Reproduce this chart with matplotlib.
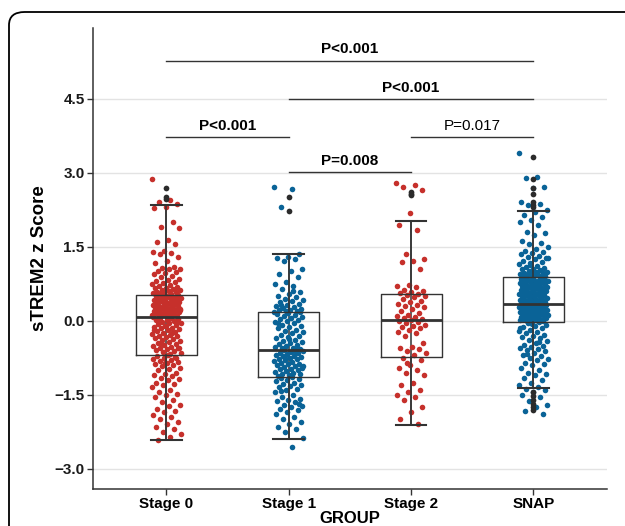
import matplotlib
matplotlib.use("Agg")
import matplotlib.pyplot as plt
from matplotlib.patches import FancyBboxPatch
import numpy as np

plt.rcParams['font.family'] = ['Liberation Sans', 'DejaVu Sans']

groups = ["Stage 0", "Stage 1", "Stage 2", "SNAP"]
colors = ["#C6302B", "#0A6397", "#C6302B", "#0A6397"]

# jittered points per group (z scores)
stage0 = [2.88, 2.45, 2.42, 2.38, 2.30, 2.28, 2.00, 1.90, 1.88, 1.65, 1.60, 1.55, 1.42, 1.40,
          1.38, 1.36, 1.30, 1.22, 1.18, 1.10, 1.08, 1.06, 1.05, 1.02, 1.00, 0.98, 0.95, 0.92,
          0.88, 0.85, 0.82, 0.80, 0.78, 0.76, 0.74, 0.72, 0.70, 0.68, 0.67, 0.66, 0.65, 0.63,
          0.62, 0.60, 0.59, 0.58, 0.57, 0.56, 0.55, 0.54, 0.53,
          0.51, 0.50, 0.49, 0.48, 0.47, 0.46, 0.45, 0.44, 0.43, 0.42, 0.41, 0.40, 0.38, 0.37,
          0.36, 0.35, 0.34, 0.33, 0.32, 0.31, 0.30, 0.29, 0.28, 0.27, 0.26, 0.25, 0.24, 0.23,
          0.22, 0.21, 0.20, 0.19, 0.18, 0.17, 0.16, 0.15, 0.14, 0.13, 0.12, 0.11, 0.10, 0.09,
          0.35, 0.28, 0.18, 0.45, 0.22, 0.14, 0.31, 0.40, 0.26,
          0.07, 0.06, 0.05, 0.04, 0.02, 0.01, 0.00, -0.02, -0.04, -0.05, -0.07, -0.09, -0.10,
          -0.12, -0.14, -0.15, -0.17, -0.19, -0.20, -0.22, -0.24, -0.26, -0.28, -0.30, -0.31,
          -0.33, -0.35, -0.37, -0.38, -0.40, -0.42, -0.44, -0.46, -0.48, -0.50, -0.52, -0.54,
          -0.56, -0.58, -0.60, -0.62, -0.64, -0.66, -0.67, 0.03, -0.03, -0.11, -0.18, -0.25,
          -0.45, -0.55,
          -0.70, -0.72, -0.74, -0.76, -0.78, -0.80, -0.82, -0.84, -0.86, -0.88, -0.90, -0.92,
          -0.95, -0.98, -1.00, -1.05, -1.08, -1.10, -1.12, -1.15, -1.18, -1.20, -1.25, -1.28,
          -1.30, -1.35, -1.40, -1.45, -1.48, -1.50, -1.55, -1.60, -1.65, -1.70, -1.72, -1.78,
          -1.82, -1.85, -1.90, -1.95, -2.00, -2.05, -2.10, -2.15, -2.20, -2.25, -2.30, -2.35,
          -2.42, -0.75, -0.85]
stage1 = [2.72, 2.68, 2.30, 1.35, 1.30, 1.28, 1.25, 1.22, 1.05, 1.02, 0.95, 0.90, 0.78, 0.75,
          0.70, 0.65, 0.58, 0.55, 0.50, 0.48, 0.45, 0.42, 0.40, 0.38, 0.35, 0.32, 0.30, 0.28,
          0.26, 0.25, 0.23, 0.22, 0.21, 0.20, 0.19, 0.60, 0.33,
          0.17, 0.15, 0.14, 0.12, 0.10, 0.08, 0.06, 0.04, 0.02, 0.00, -0.02, -0.05, -0.08,
          -0.10, -0.12, -0.15, -0.18, -0.20, -0.22, -0.25, -0.28, -0.30, -0.32, -0.35, -0.38,
          -0.40, -0.42, -0.44, -0.46, -0.48, -0.50, -0.52, -0.54, -0.56, -0.57, -0.36, -0.05,
          -0.59, -0.60, -0.62, -0.63, -0.65, -0.66, -0.68, -0.70, -0.71, -0.72, -0.74, -0.75,
          -0.77, -0.78, -0.80, -0.82, -0.84, -0.85, -0.87, -0.88, -0.90, -0.92, -0.94, -0.95,
          -0.97, -0.98, -1.00, -1.02, -1.04, -1.05, -1.07, -1.08, -1.10, -1.11, -0.64, -0.76,
          -0.91,
          -1.13, -1.15, -1.18, -1.20, -1.22, -1.25, -1.28, -1.30, -1.32, -1.35, -1.38, -1.40,
          -1.45, -1.50, -1.55, -1.58, -1.60, -1.62, -1.65, -1.70, -1.72, -1.75, -1.78, -1.80,
          -1.85, -1.88, -1.95, -2.00, -2.05, -2.10, -2.15, -2.20, -2.25, -2.38, -2.55, -1.42,
          -1.68]
stage2 = [2.80, 2.76, 2.72, 2.66, 2.18, 1.95, 1.85, 1.35, 1.25, 1.22, 1.20, 1.05, 0.72, 0.70,
          0.68, 0.62, 0.60, 0.58, 0.56,
          0.54, 0.52, 0.50, 0.48, 0.45, 0.40, 0.38, 0.35, 0.33, 0.30, 0.28, 0.25, 0.20, 0.15,
          0.12, 0.10, 0.08, 0.05, 0.03,
          0.01, 0.00, -0.02, -0.05, -0.08, -0.10, -0.12, -0.15, -0.18, -0.22, -0.25, -0.30,
          -0.45, -0.52, -0.55, -0.58, -0.62, -0.65, -0.70,
          -0.75, -0.80, -0.90, -0.95, -1.00, -1.05, -1.10, -1.25, -1.30, -1.40, -1.45, -1.50,
          -1.55, -1.60, -1.75, -1.85, -2.00, -2.10, -0.85]
snap = [3.40, 2.92, 2.90, 2.72, 2.70, 2.42, 2.38, 2.35, 2.25, 2.20, 2.15, 2.10, 2.05, 2.00,
        1.95, 1.80, 1.78, 1.75, 1.62, 1.58, 1.55, 1.50, 1.45, 1.42, 1.40, 1.38, 1.35, 1.32,
        1.30, 1.28, 1.25, 1.22, 1.20, 1.18, 1.15, 1.12, 1.10, 1.08, 1.06, 1.05, 1.03, 1.02,
        1.00, 0.99, 0.98, 0.97, 0.96, 0.95, 0.94, 0.93, 0.92, 0.91, 0.90, 0.89, 1.13, 1.27, 0.97,
        0.87, 0.86, 0.85, 0.84, 0.83, 0.82, 0.81, 0.80, 0.79, 0.78, 0.77, 0.76, 0.75, 0.74,
        0.73, 0.72, 0.71, 0.70, 0.69, 0.68, 0.67, 0.66, 0.65, 0.64, 0.63, 0.62, 0.61, 0.60,
        0.59, 0.58, 0.57, 0.56, 0.55, 0.54, 0.53, 0.52, 0.51, 0.50, 0.49, 0.48, 0.47, 0.46,
        0.45, 0.44, 0.43, 0.42, 0.41, 0.40, 0.39, 0.38, 0.37, 0.36, 0.36, 0.80, 0.72, 0.64, 0.55,
        0.34, 0.34, 0.33, 0.32, 0.32, 0.31, 0.30, 0.30, 0.29, 0.28, 0.27, 0.26, 0.26, 0.25,
        0.24, 0.23, 0.22, 0.22, 0.21, 0.20, 0.19, 0.18, 0.18, 0.17, 0.16, 0.15, 0.14, 0.14,
        0.13, 0.12, 0.11, 0.10, 0.10, 0.09, 0.08, 0.07, 0.06, 0.06, 0.05, 0.04, 0.03, 0.02,
        0.02, 0.01, 0.00, -0.01, 0.33, 0.28, 0.24, 0.20, 0.16, 0.12, 0.08, 0.04, 0.00, 0.27, 0.19,
        -0.03, -0.05, -0.08, -0.10, -0.12, -0.15, -0.18, -0.20, -0.22, -0.25, -0.28, -0.30,
        -0.33, -0.35, -0.38, -0.40, -0.45, -0.48, -0.50, -0.52, -0.55, -0.58, -0.60, -0.62,
        -0.65, -0.70, -0.72, -0.75, -0.78, -0.80, -0.85, -0.88, -0.90, -0.95, -1.00, -1.05,
        -1.08, -1.10, -1.15, -1.20, -1.25, -1.30, -1.35, -1.38, -1.40, -1.45, -1.50, -1.55,
        -1.62, -1.70, -1.75, -1.82, -1.88, -0.06, -0.14, -0.42, -0.68]
points = [stage0, stage1, stage2, snap]

# box statistics
whislo = [-2.42, -2.40, -2.12, -1.36]
q1 = [-0.70, -1.13, -0.73, -0.02]
med = [0.07, -0.60, 0.02, 0.34]
q3 = [0.52, 0.17, 0.55, 0.88]
whishi = [2.36, 1.36, 2.02, 2.23]
outliers = [[2.70, 2.52, 2.48],
            [2.52, 2.22],
            [2.62, 2.58, 2.55],
            [3.32, 2.87, 2.70, 2.58, 2.42, 2.36, 2.30, -1.45, -1.52, -1.60, -1.68, -1.74, -1.80]]

# significance brackets
comp_from = [0, 1, 0, 2, 1]
comp_to = [3, 3, 1, 3, 2]
comp_y = [5.28, 4.49, 3.72, 3.72, 3.02]
comp_text = ["P<0.001", "P<0.001", "P<0.001", "P=0.017", "P=0.008"]
comp_bold = [True, True, True, False, True]

fig = plt.figure(figsize=(6.25, 5.26), dpi=100)
ax = fig.add_axes([0.1488, 0.0703, 0.8222, 0.8765])

pos = np.arange(len(groups))
for i, vals in enumerate(points):
    n = len(vals)
    # spread points sideways (deterministic jitter)
    offs = ((np.arange(n) * 0.6180339887) % 1.0 - 0.5) * 0.24
    ax.scatter(pos[i] + offs, vals, s=16, color=colors[i], linewidths=0, zorder=3)

ax.vlines(pos, whislo, whishi, color="#333333", lw=1.1, zorder=2)

stats = []
for i in range(len(groups)):
    stats.append(dict(med=med[i], q1=q1[i], q3=q3[i], whislo=whislo[i], whishi=whishi[i],
                      fliers=[]))
ax.bxp(stats, positions=pos, widths=0.5, capwidths=0.25, showfliers=False,
       boxprops=dict(color="#333333", lw=1.0),
       medianprops=dict(color="#333333", lw=2.0),
       whiskerprops=dict(color="#333333", lw=1.1),
       capprops=dict(color="#333333", lw=1.5), zorder=4)

for i, outs in enumerate(outliers):
    ax.scatter([pos[i]] * len(outs), outs, s=17, color="#2b2b2b", linewidths=0, zorder=5)

for a, b, y, t, bold in zip(comp_from, comp_to, comp_y, comp_text, comp_bold):
    ax.plot([pos[a], pos[b]], [y, y], color="#333333", lw=1.0, zorder=2)
    ax.text((pos[a] + pos[b]) / 2, y + 0.09, t, ha="center", va="bottom", fontsize=11,
            fontweight="bold" if bold else "normal", color="black")

ax.set_xlim(-0.6, 3.6)
ax.set_ylim(-3.41, 5.94)
ax.set_xticks(pos)
ax.set_xticklabels(groups, fontsize=11, fontweight="bold", color="black")
ax.set_yticks([-3.0, -1.5, 0.0, 1.5, 3.0, 4.5])
ax.set_yticklabels(["\u22123.0", "\u22121.5", "0.0", "1.5", "3.0", "4.5"],
                   fontsize=11, fontweight="bold", color="#1a1a1a")
ax.tick_params(axis="both", length=4, width=1.0, color="#333333", pad=2)
ax.grid(axis="y", color="#e3e3e3", lw=1.0)
ax.set_axisbelow(True)
for s in ["top", "right"]:
    ax.spines[s].set_visible(False)
for s in ["left", "bottom"]:
    ax.spines[s].set_color("#333333")
    ax.spines[s].set_linewidth(1.1)

ax.set_ylabel("sTREM2 z Score", fontsize=13.5, fontweight="bold", labelpad=5)
ax.set_xlabel("GROUP", fontsize=12, fontweight="bold", labelpad=0)

# rounded frame around the panel
frame = FancyBboxPatch((9 / 625, -0.2), 1.2, 1.2 - 12 / 526,
                       boxstyle="round,pad=0,rounding_size=0.025",
                       transform=fig.transFigure, fill=False, ec="black", lw=1.3)
fig.patches.append(frame)

fig.savefig("out.png", dpi=100)
